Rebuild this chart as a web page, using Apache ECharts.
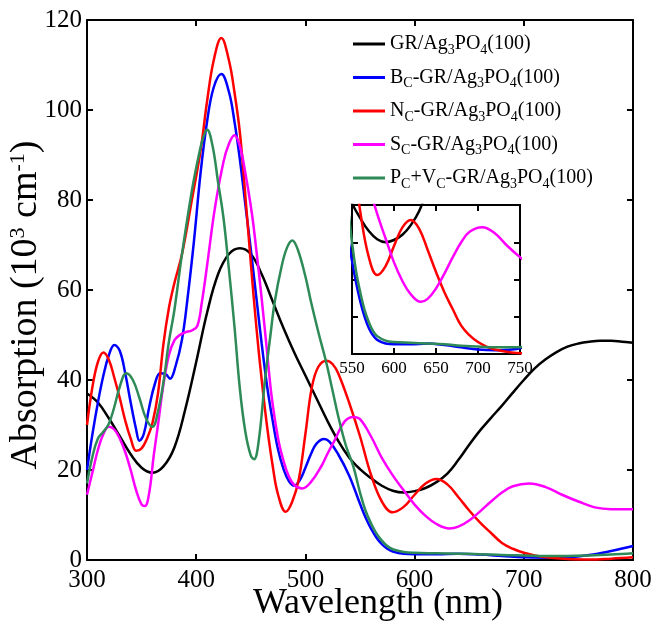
<!DOCTYPE html>
<html>
<head>
<meta charset="utf-8">
<script src="https://cdn.jsdelivr.net/npm/echarts@6/dist/echarts.min.js"></script>
<style>
  html, body { margin: 0; padding: 0; background: #fff; }
  #chart { width: 655px; height: 625px; }
</style>
</head>
<body>
<div id="chart"></div>
<script>
// [wavelength (nm), absorption (10^3 cm^-1)]
var grAg = [[300,37],[310,35],[320,31.5],[330,27.5],[340,23.5],[350,20.5],[360,19.4],[370,20.8],[380,25],[390,33.5],[400,44],[410,55],[420,63.5],[430,68],[440,69.3],[450,68],[460,63.5],[470,57.5],[480,51.5],[490,46],[500,41],[510,36],[520,31],[530,26.5],[540,22.8],[550,20.2],[560,18.2],[570,16.5],[580,15.4],[590,15],[600,15.3],[610,16],[620,17.3],[630,19.2],[640,22.2],[650,25.6],[660,28.8],[670,31.6],[680,34.3],[690,37.2],[700,40],[710,42.6],[720,44.6],[730,46.2],[740,47.4],[750,48.1],[760,48.5],[770,48.7],[780,48.7],[790,48.5],[800,48.3]];
var bcAg = [[300,20],[305,28],[310,35],[315,41],[320,45.5],[325,47.8],[330,46.5],[335,41.5],[340,35],[345,29],[348,26.5],[352,28],[357,34],[362,39],[367,41.5],[372,41.3],[376,40.3],[381,43],[387,49],[392,58],[398,71],[404,86],[410,97.5],[416,105],[423,108],[430,104],[435,97.5],[440,89],[445,79],[450,69],[455,58.5],[460,48],[465,38.5],[470,31],[475,24.5],[480,20.2],[485,17.5],[490,16.5],[495,17.8],[500,20.5],[505,23.5],[510,25.8],[517,26.9],[522,26.3],[530,23.5],[540,18.8],[550,12.5],[555,9.5],[560,7],[565,5],[570,3.5],[575,2.5],[580,1.9],[590,1.4],[600,1.3],[620,1.3],[640,1.4],[660,1.2],[680,0.9],[700,0.6],[720,0.5],[740,0.6],[760,1.1],[780,2],[800,3.1]];
var ncAg = [[300,30],[305,38.5],[310,44],[315,46.1],[320,44.5],[325,40.5],[330,36],[335,31],[340,27],[345,24.3],[350,24.8],[355,27],[360,30.5],[365,37],[370,48],[375,56],[380,61.5],[387,68],[396,80],[404,91],[410,102],[416,111],[423,116],[430,111],[435,104],[440,95],[445,81],[450,66],[455,52],[460,40],[465,29.5],[470,21],[475,14.5],[482,10.7],[488,13],[494,18],[500,28],[506,38.5],[512,43],[519.5,44.3],[525,43.5],[530,41.5],[540,35],[550,27.5],[560,19],[570,13],[580,10.6],[590,11.8],[600,14.5],[610,17],[620,18],[630,16.8],[640,14],[650,11],[660,8.3],[670,6],[680,3.8],[690,2.5],[700,1.6],[710,1],[720,0.6],[740,0.2],[760,0.1],[780,0.3],[800,0.6]];
var scAg = [[300,14.5],[305,19.5],[310,24.5],[315,28],[320,29.6],[325,29],[330,27],[335,24],[340,20],[345,15.5],[350,12.3],[353,12],[357,15],[361,23],[365,30],[370,39],[375,45.5],[380,48.8],[385,50],[390,50.6],[396,51],[401,52],[405,57],[410,65.5],[417,78],[425,88.5],[430,92.5],[435,94.4],[440,92],[445,86],[451,77],[455,69],[460,58],[465,46],[469,36.5],[475,27],[480,22],[485,18.5],[490,16.6],[497,15.9],[505,17.3],[515,21],[520,23.5],[527,26.7],[536,30.8],[544,31.8],[550,31.3],[560,27.5],[570,22.7],[580,18.8],[590,15.5],[600,12.3],[610,9.8],[620,8],[632,7],[640,7.4],[650,8.8],[660,10.8],[670,13],[680,15],[690,16.4],[705,17],[720,16.2],[735,14.5],[750,13],[765,11.7],[780,11.3],[800,11.3]];
var pcvcAg = [[300,17],[305,23],[310,27],[315,28.5],[320,30.3],[325,34],[330,38.5],[336,41.5],[342,40],[348,36],[354,31.5],[360,29.6],[365,33],[370,39.5],[375,48.5],[380,55.5],[387,68],[396,82],[402,89.5],[406,93.5],[410,95.6],[415,92],[420,84],[425,76],[430,64.5],[435,52],[440,38],[445,28.5],[450,23.2],[453,22.4],[457,26],[463,40],[468,50],[472,57.5],[478,65],[483,69.3],[488,71],[493,69],[500,63],[505,57.5],[512,50.5],[519,44],[525,37.5],[530,32],[537,25.5],[544,20.7],[550,15],[555,11],[560,8.2],[565,5.9],[570,4.3],[575,3.1],[580,2.4],[590,1.8],[600,1.6],[620,1.5],[640,1.4],[660,1.3],[680,1.1],[700,1],[720,0.9],[740,0.9],[760,1],[780,1.2],[800,1.5]];

var seriesNames = ['GR/Ag3PO4(100)', 'BC-GR/Ag3PO4(100)', 'NC-GR/Ag3PO4(100)', 'SC-GR/Ag3PO4(100)', 'PC+VC-GR/Ag3PO4(100)'];
var legendLabels = [
  'GR/Ag{s|3}PO{s|4}(100)',
  'B{s|C}-GR/Ag{s|3}PO{s|4}(100)',
  'N{s|C}-GR/Ag{s|3}PO{s|4}(100)',
  'S{s|C}-GR/Ag{s|3}PO{s|4}(100)',
  'P{s|C}+V{s|C}-GR/Ag{s|3}PO{s|4}(100)'
];
var seriesData = [grAg, bcAg, ncAg, scAg, pcvcAg];
var colors = ['#000000', '#0000ff', '#ff0000', '#ff00ff', '#2e8b57'];

var font = 'Liberation Serif, Times New Roman, serif';

function boxAxis(gridIndex, pos, extra) {
  var ax = {
    gridIndex: gridIndex,
    position: pos,
    nameMoveOverlap: false,
    axisLine: { onZero: false, lineStyle: { color: '#000', width: 2 } },
    axisTick: { inside: true, length: 6, lineStyle: { color: '#000', width: 2 } },
    axisLabel: { show: false },
    splitLine: { show: false }
  };
  return Object.assign(ax, extra);
}

var chart = echarts.init(document.getElementById('chart'));

var series = [];
seriesData.forEach(function (d, i) {
  series.push({
    name: seriesNames[i], type: 'line', data: d, smooth: 0.4,
    showSymbol: false, symbol: 'none', xAxisIndex: 0, yAxisIndex: 0,
    lineStyle: { color: colors[i], width: 2.5 }, itemStyle: { color: colors[i] }
  });
});
// inset: same curves zoomed to 550-750 nm
seriesData.forEach(function (d, i) {
  series.push({
    name: seriesNames[i], type: 'line', data: d, smooth: 0.4,
    showSymbol: false, symbol: 'none', xAxisIndex: 2, yAxisIndex: 2, clip: true,
    lineStyle: { color: colors[i], width: 2.5 }, itemStyle: { color: colors[i] }
  });
});

chart.setOption({
  animation: false,
  backgroundColor: '#fff',
  grid: [
    { left: 87, top: 20, right: 22, bottom: 65, outerBoundsMode: 'none' },
    { left: 352, top: 205, width: 168, height: 149, outerBoundsMode: 'none' }
  ],
  legend: {
    data: seriesNames,
    orient: 'vertical',
    left: 353, top: 33, padding: 0,
    icon: 'rect', itemWidth: 32, itemHeight: 3, itemGap: 9.5,
    formatter: function (name) { return legendLabels[seriesNames.indexOf(name)]; },
    textStyle: {
      fontFamily: font, fontSize: 20, color: '#000', lineHeight: 22,
      rich: { s: { fontFamily: font, fontSize: 14, color: '#000', padding: [12, 0, 0, 0] } }
    }
  },
  xAxis: [
    boxAxis(0, 'bottom', {
      type: 'value', min: 300, max: 800, interval: 100,
      axisLabel: { show: true, fontFamily: font, fontSize: 25, color: '#000', margin: 8 },
      name: 'Wavelength (nm)', nameLocation: 'middle', nameGap: 26,
      nameTextStyle: { fontFamily: font, fontSize: 36, color: '#000', padding: [0, 0, 0, 36] }
    }),
    boxAxis(0, 'top', { type: 'value', min: 300, max: 800, interval: 100 }),
    boxAxis(1, 'bottom', {
      type: 'value', min: 550, max: 750, interval: 50,
      axisLabel: { show: true, fontFamily: font, fontSize: 17, color: '#000', margin: 6 }
    }),
    boxAxis(1, 'top', { type: 'value', min: 550, max: 750, interval: 50 })
  ],
  yAxis: [
    boxAxis(0, 'left', {
      type: 'value', min: 0, max: 120, interval: 20,
      axisLabel: { show: true, fontFamily: font, fontSize: 25, color: '#000', margin: 5 },
      name: 'Absorption (10{p|3} cm{p|-1})', nameLocation: 'middle', nameGap: 41,
      nameTextStyle: {
        fontFamily: font, fontSize: 38, color: '#000', padding: [0, 30, 0, 0],
        rich: { p: { fontFamily: font, fontSize: 22, color: '#000', padding: [0, 0, 17, 0] } }
      }
    }),
    boxAxis(0, 'right', { type: 'value', min: 0, max: 120, interval: 20 }),
    boxAxis(1, 'left', { type: 'value', min: 0, max: 20, interval: 5 }),
    boxAxis(1, 'right', { type: 'value', min: 0, max: 20, interval: 5 })
  ],
  series: series
});
</script>
</body>
</html>
